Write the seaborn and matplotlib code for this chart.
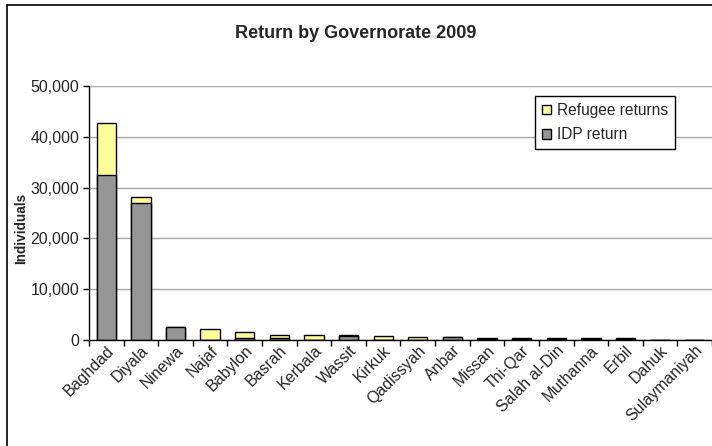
import numpy as np
import pandas as pd
import seaborn as sns
from matplotlib import pyplot as plt
from matplotlib.patches import Patch
from matplotlib.lines import Line2D
from matplotlib.ticker import FuncFormatter, FixedLocator

governorates = [
    "Baghdad", "Diyala", "Ninewa", "Najaf", "Babylon", "Basrah", "Kerbala",
    "Wassit", "Kirkuk", "Qadissyah", "Anbar", "Missan", "Thi-Qar",
    "Salah al-Din", "Muthanna", "Erbil", "Dahuk", "Sulaymaniyah",
]
idp_return = [32500, 26900, 2550, 50, 470, 470, 50, 800, 50, 80, 520,
              200, 200, 200, 200, 200, 20, 10]
refugee_returns = [10300, 1300, 20, 2050, 1100, 580, 1000, 250, 730, 470, 30,
                   100, 100, 100, 100, 100, 10, 10]

df = pd.DataFrame(
    {"governorate": governorates, "idp": idp_return, "refugee": refugee_returns}
)
df["total"] = df["idp"] + df["refugee"]

sns.set_style("white")
plt.rcParams["font.family"] = ["Liberation Sans", "DejaVu Sans"]

fig = plt.figure(figsize=(7.12, 4.46), dpi=100)
ax = fig.add_axes([89 / 712, 106 / 446, 623 / 712, 254 / 446])

yellow = "#FFFF99"
grey = "#969696"

# stacked look: totals in yellow, IDP drawn over them in grey
sns.barplot(data=df, x="governorate", y="total", color=yellow, width=0.56,
            edgecolor="black", linewidth=1, saturation=1, ax=ax)
sns.barplot(data=df, x="governorate", y="idp", color=grey, width=0.56,
            edgecolor="black", linewidth=1, saturation=1, ax=ax)

ax.set_ylim(0, 50000)
ax.set_xlim(-0.5, len(governorates) - 0.5)
ax.set_yticks(np.arange(0, 50001, 10000))
ax.yaxis.set_major_formatter(FuncFormatter(lambda v, p: f"{int(v):,}"))
ax.grid(True, axis="y", color="#a6a6a6", linewidth=1)
ax.set_axisbelow(True)

for s in ["top", "right"]:
    ax.spines[s].set_visible(False)
for s in ["left", "bottom"]:
    ax.spines[s].set_color("black")
    ax.spines[s].set_linewidth(1)

ax.tick_params(axis="y", length=4, width=1, color="black", direction="out",
               left=True, labelsize=11.5, pad=3)
ax.tick_params(axis="x", which="major", length=0, labelsize=11.5, pad=2)
ax.xaxis.set_minor_locator(FixedLocator(np.arange(-0.5, len(governorates), 1)))
ax.tick_params(axis="x", which="minor", length=4, width=1, color="black",
               direction="out", bottom=True)
ax.set_xticks(range(len(governorates)))
ax.set_xticklabels(governorates, rotation=45, ha="right",
                   rotation_mode="anchor")
ax.set_xlabel("")
ax.set_ylabel("Individuals", fontsize=9.8, fontweight="bold")
ax.yaxis.set_label_coords(-0.098, 0.44)

fig.text(0.5, 1 - 33 / 446, "Return by Governorate 2009", ha="center",
         va="center", fontsize=13, fontweight="bold")

handles = [
    Patch(facecolor=yellow, edgecolor="black", label="Refugee returns"),
    Patch(facecolor=grey, edgecolor="black", label="IDP return"),
]
leg = ax.legend(handles=handles, loc="upper right",
                bbox_to_anchor=(675 / 712, 1 - 96 / 446),
                bbox_transform=fig.transFigure, fancybox=False,
                framealpha=1, edgecolor="black", fontsize=11.2,
                handlelength=0.6, handleheight=0.6, handletextpad=0.35,
                borderpad=0.45, labelspacing=0.6, borderaxespad=0)
leg.get_frame().set_linewidth(1)

fig.add_artist(Line2D([7 / 712, 7 / 712], [0, 1 - 5 / 446], color="black",
                      linewidth=1.2, transform=fig.transFigure))
fig.add_artist(Line2D([7 / 712, 1], [1 - 5 / 446, 1 - 5 / 446], color="black",
                      linewidth=1.2, transform=fig.transFigure))

fig.savefig("out.png", dpi=100)
